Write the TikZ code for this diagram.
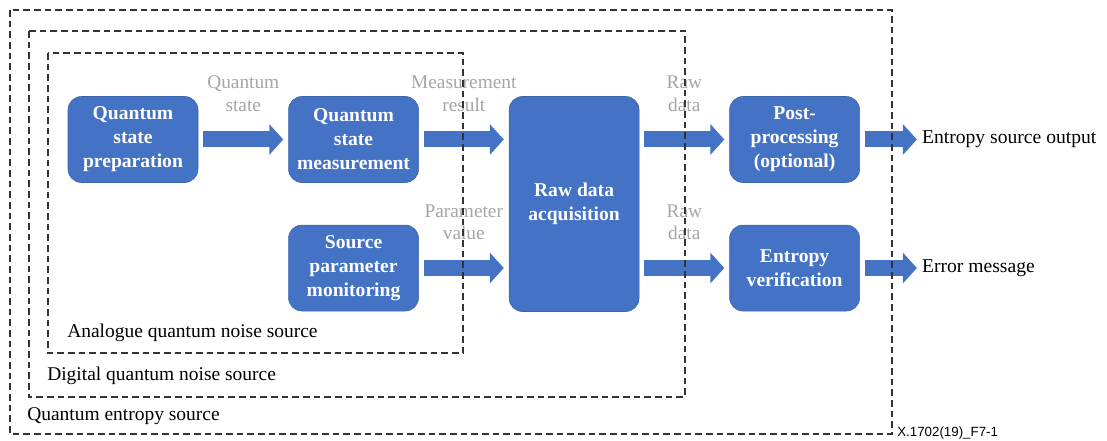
\documentclass[tikz,border=0pt]{standalone}
\usepackage{fontspec}
\setmainfont{Liberation Serif}
\setsansfont{Liberation Sans}
\usepackage{xcolor}
\usetikzlibrary{arrows.meta, positioning, calc}
\definecolor{boxblue}{HTML}{4472C4}
\definecolor{boxedge}{HTML}{3A63AC}
\definecolor{labelgray}{HTML}{A6A6A6}
\definecolor{framegray}{HTML}{333333}
\tikzset{%
	block/.style={draw=boxedge, fill=boxblue, rounded corners=10pt, minimum width=97.5pt,%
		minimum height=64.5pt, inner sep=0pt, text=white, align=center,%
		font=\fontsize{14.7}{18}\selectfont\bfseries},
	tall/.style={block, minimum height=161.25pt},
	flow/.style={draw=boxblue, line width=12pt, -{Triangle[length=10.5pt, width=22.5pt]},%
		shorten <=3.75pt, shorten >=3.75pt},
	flowlabel/.style={text=labelgray, font=\fontsize{14.5}{17}\selectfont, align=center,%
		inner sep=0pt, above=15pt},
	frame/.style={draw=framegray, line width=0.9pt, dash pattern=on 5pt off 3pt},
	framelabel/.style={anchor=west, inner sep=0pt, font=\fontsize{14.6}{17}\selectfont},
	outlabel/.style={inner sep=0pt, font=\fontsize{14.7}{17}\selectfont}
}

\begin{document}
\begin{tikzpicture}[x=0.75pt, y=-0.75pt]
	\fill[white] (0,0) rectangle (1107,441);
	\useasboundingbox (0,0) rectangle (1107,441);

	\node[block] (prep) at (133,139.5) {Quantum\\state\\preparation};
	\node[block, right=67.5pt of prep] (meas) {Quantum\\state\\measurement};
	\node[block, below=31.5pt of meas] (param) {Source\\parameter\\monitoring};
	\node[tall, right=67.5pt of meas.north east, anchor=north west] (raw) {Raw data\\acquisition};
	\node[block, right=67.5pt of raw.north east, anchor=north west] (post) {Post-\\processing\\(optional)};
	\node[block, below=31.5pt of post] (verif) {Entropy\\verification};
	\node[outlabel, right=46.5pt of post] (out) {Entropy source output};
	\node[outlabel, right=46.5pt of verif] (err) {Error message};

	\draw[flow] (prep) -- node[flowlabel] {Quantum\\state} (meas);
	\draw[flow] (meas) -- node[flowlabel] {Measurement\\result} (meas -| raw.west);
	\draw[flow] (param) -- node[flowlabel] {Parameter\\value} (param -| raw.west);
	\draw[flow] (raw.east |- post) -- node[flowlabel] {Raw\\data} (post);
	\draw[flow] (raw.east |- verif) -- node[flowlabel] {Raw\\data} (verif);
	\draw[flow] (post) -- (out);
	\draw[flow] (verif) -- (err);

	% nested source frames
	\draw[frame] (10,10) rectangle (892,434);
	\draw[frame] (29,31) rectangle (685,397);
	\draw[frame] (48,53) rectangle (463,353);
	\node[framelabel] (analoguelbl) at (67,333) {Analogue quantum noise source};
	\node[framelabel] (digitallbl) at (47,376) {Digital quantum noise source};
	\node[framelabel] (entropylbl) at (27,416) {Quantum entropy source};
	\node[anchor=west, inner sep=0pt, font=\sffamily\fontsize{10}{11}\selectfont] (figid) at (897,433) {X.1702(19)\_F7-1};
\end{tikzpicture}
\end{document}
